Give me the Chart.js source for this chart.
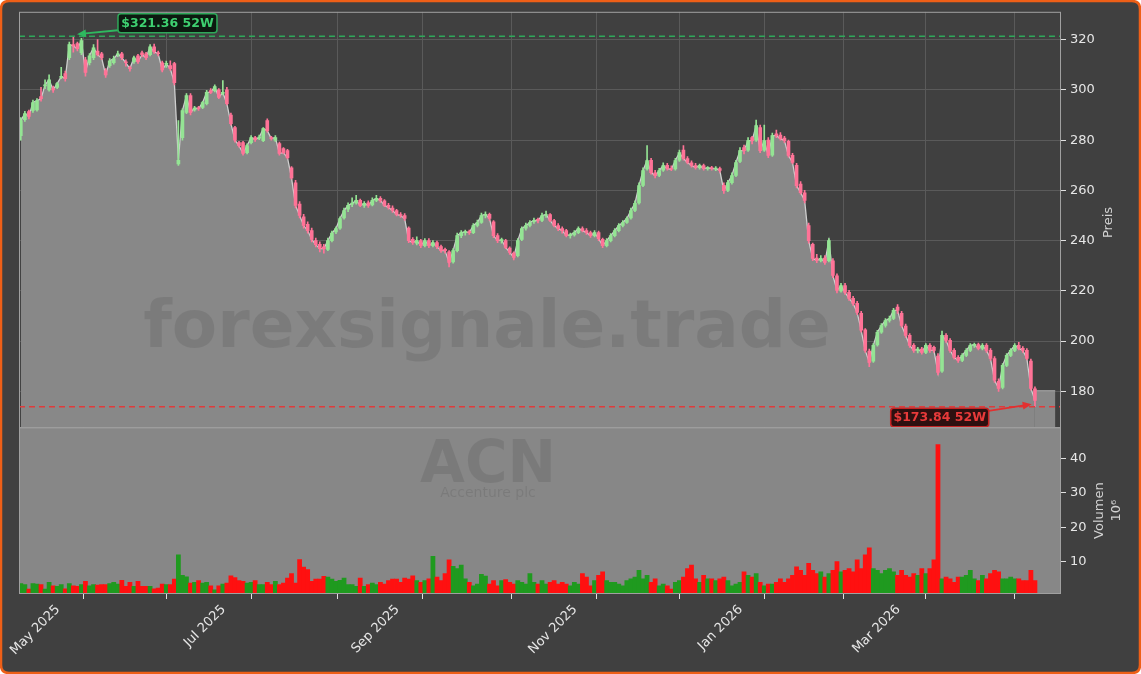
<!DOCTYPE html>
<html>
<head>
<meta charset="utf-8">
<script src="https://cdn.jsdelivr.net/npm/chart.js@4.4.1/dist/chart.umd.min.js"></script>
<style>
html, body { margin: 0; padding: 0; background: #ffffff; }
canvas { display: block; }
</style>
</head>
<body>
<canvas id="chart" width="1141" height="674"></canvas>
<script>
// one entry per trading day, 24 Apr 2025 .. 24 Apr 2026
const opens = [
  281.8, 288.2, 291.4, 291.8, 292, 297.3, 301.6, 300, 300.5, 301,
  305, 306.5, 312.8, 318, 318.4, 314.8, 312, 310.8, 312.8, 315.5,
  314.4, 307.7, 309.7, 310.8, 314, 314.4, 311, 308.8, 311.2, 313.6,
  314.8, 314.4, 314, 317.2, 314.6, 310.8, 310.2, 309.7, 310.5, 270.5,
  281, 291, 297.7, 292, 292.8, 293, 294.5, 299.7, 299.7, 300,
  298.6, 300, 290, 285, 279, 279, 275, 279, 281, 280.8,
  279.8, 287.8, 280.8, 280, 278.6, 276.6, 275.8, 269, 263, 254.5,
  249.5, 246.5, 244, 240, 238.5, 237.5, 236.5, 240, 243.5, 245,
  249, 252.5, 254.5, 255, 256, 254, 255, 254.2, 256, 256.8,
  255.8, 254, 253, 252, 250.4, 250, 245, 240.5, 239, 240,
  238, 240, 238, 239.2, 237.6, 236.5, 235.5, 231.5, 236, 242,
  243.2, 243.5, 243.2, 246, 247.2, 250, 250.5, 247.5, 242, 240,
  240, 237, 235, 234, 240.5, 245, 246, 247.5, 248.5, 248,
  250, 250.4, 248, 246, 244.8, 244, 242, 242.3, 243.2, 244.8,
  244, 243.2, 242, 243.2, 240.5, 238, 240, 242, 244, 246,
  247.2, 249, 252, 255, 262, 268.5, 272, 267, 266, 268,
  270, 268.7, 268.5, 272, 276, 272.7, 271, 269.9, 269, 269.9,
  268.7, 269, 268.5, 268.7, 262, 260, 263.1, 266, 271.5, 277,
  276, 281, 280, 285, 276, 280, 274, 282.5, 282, 280.8,
  279.5, 274, 270, 262.5, 259, 246, 238.5, 233, 232.1, 233,
  232, 232, 226, 220, 222.1, 219.4, 217, 215, 211, 204.5,
  196, 192, 198.5, 203.5, 206.2, 208.2, 209, 213.5, 211, 206,
  202.3, 198.3, 196.3, 196.8, 195.5, 198.3, 197.5, 194, 188, 202.3,
  200.3, 196.3, 193.5, 192.3, 194.3, 196.3, 198.3, 198.6, 197.1, 198.3,
  196.3, 193, 184, 181.5, 190.3, 194.3, 196.3, 198.3, 197.1, 196.3,
  192, 181
];

const highs = [
  289, 291.5, 292, 296, 296.5, 301, 304, 306, 301.5, 303,
  309, 307.5, 319, 321.36, 319, 320.5, 313, 314.5, 318, 320,
  315, 308.5, 312.5, 313.5, 315.5, 315, 312, 309.5, 313.5, 314.2,
  315.5, 315, 318, 318.2, 315.5, 311.5, 311.5, 311.6, 311, 287.8,
  292.5, 298.5, 298.5, 293.5, 293.5, 295.5, 299.8, 300.5, 302, 300.5,
  303.7, 301, 290.8, 285.5, 279.5, 279.5, 278.5, 281.8, 281.5, 282,
  285, 288.5, 281.5, 281.8, 279.2, 277, 276.3, 269.5, 264, 255.5,
  250.5, 247.5, 245, 241, 239.5, 238.5, 241, 243.8, 245.5, 249.5,
  253, 255, 257, 258, 256.5, 255.5, 255.8, 257, 258, 257.5,
  256.3, 254.8, 253.8, 252.5, 251.2, 250.8, 245.5, 241.2, 241.5, 240.5,
  240.8, 240.8, 240, 239.8, 238.2, 237, 236, 236.8, 243, 244,
  244.2, 244.2, 246.8, 248.2, 251, 251.5, 251, 248, 242.8, 241,
  240.5, 237.5, 235.5, 240.8, 245.5, 247, 248, 249, 249, 251,
  251.8, 250.8, 248.5, 246.8, 245.5, 244.5, 243, 244, 245.5, 245.5,
  244.8, 243.8, 244, 243.8, 241, 240.8, 242.8, 244.8, 246.8, 248,
  249.5, 253, 255.8, 263, 269, 277.8, 272.8, 268, 268.8, 271,
  270.8, 269.8, 272.8, 276, 277.8, 273.5, 271.8, 270.8, 270.5, 270.5,
  269.5, 269.6, 269.5, 269.3, 263, 264, 267, 272, 277, 278,
  281, 281.5, 288, 286, 286, 281, 282.8, 284, 283, 281.5,
  280, 274.8, 270.8, 263.5, 260, 247, 239, 234.5, 234, 234,
  240.8, 232.8, 226.8, 223, 223, 220.2, 217.8, 215.8, 211.8, 205,
  196.8, 199, 204.3, 207, 209, 210, 213, 214.5, 211.8, 206.8,
  203, 199, 197.5, 197.5, 199, 199, 198, 195, 204, 203,
  201, 197, 194.2, 195, 197, 199, 199.2, 199.2, 199, 199,
  197, 193.8, 185, 191, 195, 197, 199, 199.5, 197.8, 197,
  192.8, 181.8
];

const lows = [
  280, 287.5, 288.5, 291, 291.5, 295.5, 300.5, 299.5, 299, 300.5,
  304.5, 303.5, 312, 315, 315.5, 314, 305.5, 310, 312, 313.5,
  312, 305, 309, 310.2, 313.2, 312, 309.5, 307.5, 310.5, 310.5,
  313.2, 312, 313.5, 314.5, 313.5, 307.2, 309, 307.8, 302, 269.9,
  280, 290.5, 290, 291.5, 291.8, 292.5, 294, 298.5, 299.2, 296.5,
  298, 294, 286, 279.2, 277.2, 274, 274.5, 278.5, 279.5, 280.2,
  279.4, 283.2, 280, 279.5, 274, 274.5, 272.5, 264.5, 253, 249,
  245, 243, 239.5, 237.5, 235.5, 235, 236, 239.5, 242.8, 244.5,
  248.5, 251.5, 253.5, 254.5, 253.5, 253.2, 253.2, 253.8, 255.5, 255.2,
  253.5, 252.5, 251.2, 249.8, 249.2, 248, 239.2, 238.5, 238.3, 237.2,
  237.5, 237.2, 237.5, 236.8, 235.3, 235, 229.5, 231, 235.5, 241.2,
  242.2, 242.5, 242.8, 245.5, 246.8, 249, 248, 241.2, 239.2, 239,
  236.8, 234.5, 232.3, 233.5, 240, 244.2, 245.5, 246.8, 247, 247.5,
  249.2, 247.5, 245.5, 244, 243, 241.5, 241, 241.8, 242.8, 243.5,
  242.5, 241.3, 241.5, 240, 237.2, 237.5, 239.5, 241.5, 243.5, 245.5,
  246.8, 248.5, 251.5, 254.5, 261.5, 268, 266.5, 265, 265.5, 267.5,
  268, 267.8, 268, 271.5, 272, 270.5, 269.2, 268.4, 268.4, 268,
  268, 268, 267.8, 267.2, 258.8, 259.5, 262.5, 265.5, 271, 274.5,
  275.5, 278.5, 279.5, 275, 275.5, 273, 273.5, 281, 280, 279,
  273.2, 270.5, 261, 258.5, 255, 239, 232, 231.2, 231.5, 230.5,
  231.5, 225.2, 219.2, 219.5, 218.6, 216.2, 214.2, 210.5, 203.5, 195.5,
  189.8, 191.5, 198, 203, 205.5, 207.5, 208.5, 211, 205.5, 201.5,
  197.5, 195.5, 195.3, 194.8, 195, 195.5, 195.5, 186.5, 187.5, 199.5,
  195.5, 192.8, 191.5, 191.8, 193.8, 195.8, 197.5, 196.5, 196.5, 195.5,
  192.3, 183.5, 180, 181, 189.8, 193.8, 195.8, 196.5, 195.5, 192.5,
  180.5, 173.84
];

const closes = [
  287.8, 290.6, 289.4, 295, 295.7, 296.5, 302, 304, 300, 302.5,
  305.3, 304.5, 318, 317.5, 316.4, 319.6, 307, 313.6, 316.8, 314,
  312.8, 306, 311.6, 312.4, 314.4, 312.8, 310.8, 308.5, 312.8, 311.2,
  314, 312.8, 317.2, 315.2, 314.4, 308, 310.4, 308.5, 302.9, 272,
  291.8, 297.7, 291, 292.8, 292.5, 295, 299, 299, 301.3, 297,
  299, 294.5, 286.6, 280, 277.8, 274.7, 277.8, 281, 280.2, 281,
  284.6, 283.8, 280.6, 281, 274.7, 275, 273, 265, 254, 250,
  246, 244, 240.5, 238.4, 236.8, 236.8, 240, 243, 244.8, 248.8,
  252, 254, 254.8, 256, 254, 254.8, 254, 256, 256.8, 256,
  254, 253.2, 252, 250.4, 250, 248.8, 240, 239.2, 240, 238,
  240, 238, 239.2, 237.6, 236, 236, 231.3, 236, 242, 243.2,
  243.5, 243.2, 246, 247.2, 250, 250.5, 248.8, 242, 240, 240.3,
  237.3, 235.3, 233.3, 240, 244.8, 246, 247.2, 248, 248, 250,
  250.4, 248, 246, 244.8, 244, 242, 242.3, 243.2, 244.8, 244,
  243.2, 242, 243.2, 240.8, 238, 240, 242, 244, 246, 247.2,
  248.8, 252, 254.8, 261.9, 267.9, 271.9, 267.1, 265.9, 267.9, 269.9,
  268.7, 268.4, 271.9, 275, 272.7, 271.1, 269.9, 269.1, 269.9, 268.7,
  269, 268.7, 268.7, 267.9, 259.9, 263.1, 265.9, 271.1, 275.8, 275.8,
  279.8, 279.8, 285.8, 275.8, 279.8, 273.9, 281.8, 281.8, 280.6, 279.8,
  273.9, 271.1, 261.9, 259.1, 256, 240, 232.9, 232.1, 232.9, 231.3,
  240, 226.1, 220.2, 222.1, 219.4, 217, 215, 211.4, 204.3, 196.3,
  191.5, 198.3, 203.5, 206.2, 208.2, 209, 212.2, 212.2, 206.2, 202.3,
  198.3, 196.3, 196.8, 195.5, 198.3, 196.3, 196.3, 187.5, 202.3, 200.3,
  196.3, 193.5, 192.3, 194.3, 196.3, 198.3, 198.6, 197.1, 198.3, 196.3,
  193.1, 184.4, 181.2, 190.3, 194.3, 196.3, 198.3, 197.1, 196.3, 193.1,
  181.2, 176.4
];

// volume in millions
const volumes = [
  3.6, 3.3, 2.0, 3.6, 3.5, 3.3, 2.0, 4.0, 3.0, 2.8,
  3.3, 2.1, 3.6, 3.0, 2.8, 3.3, 4.3, 3.0, 3.3, 3.2,
  3.3, 3.3, 3.6, 4.0, 3.5, 4.6, 2.8, 4.0, 2.8, 4.3,
  2.8, 2.8, 2.8, 2.1, 2.3, 3.5, 3.3, 3.3, 4.9, 12.0,
  6.0, 5.6, 3.8, 4.0, 4.5, 3.8, 4.0, 3.0, 1.8, 3.0,
  3.5, 3.8, 5.9, 5.4, 4.5, 4.3, 3.8, 4.0, 4.5, 3.3,
  3.3, 4.0, 3.3, 4.3, 3.3, 3.8, 5.2, 6.5, 3.8, 10.6,
  8.4, 7.7, 4.3, 4.9, 4.9, 5.7, 5.5, 4.9, 4.3, 4.6,
  5.2, 3.3, 3.3, 2.8, 5.2, 2.8, 3.3, 3.8, 3.3, 4.0,
  3.5, 4.5, 4.9, 4.9, 4.0, 5.2, 4.9, 5.9, 4.5, 4.0,
  4.5, 5.0, 11.5, 5.5, 4.5, 6.5, 10.5, 8.6, 8.0, 9.0,
  5.0, 4.0, 3.0, 3.5, 6.3, 5.8, 3.5, 4.5, 3.0, 4.5,
  4.8, 4.0, 3.5, 4.5, 4.0, 3.5, 6.5, 4.0, 3.5, 4.5,
  3.5, 4.0, 4.5, 3.5, 4.0, 3.5, 3.0, 4.0, 3.5, 6.5,
  5.5, 3.0, 4.5, 6.0, 7.0, 4.5, 4.0, 4.0, 3.5, 3.0,
  4.5, 5.0, 5.5, 7.5, 5.0, 6.0, 4.0, 5.0, 3.0, 3.5,
  3.0, 2.0, 4.0, 4.5, 5.5, 8.0, 9.0, 5.0, 4.0, 6.0,
  5.0, 5.0, 4.5, 5.0, 5.5, 4.5, 3.0, 3.5, 4.0, 7.0,
  6.0, 5.5, 6.5, 4.0, 3.0, 3.5, 3.5, 4.0, 5.0, 4.0,
  5.0, 6.0, 8.5, 7.5, 6.0, 9.5, 7.5, 6.5, 7.0, 5.5,
  6.5, 7.5, 10.0, 7.0, 7.5, 8.0, 7.0, 10.5, 8.0, 12.0,
  14.0, 8.0, 7.5, 6.5, 7.5, 8.0, 7.0, 6.0, 7.5, 6.0,
  5.5, 6.5, 6.0, 8.0, 6.5, 8.0, 10.5, 44.0, 5.0, 5.5,
  5.0, 4.0, 5.5, 5.5, 6.0, 7.5, 5.0, 4.5, 6.0, 5.0,
  6.5, 7.5, 7.0, 5.0, 5.0, 5.5, 5.0, 5.0, 4.5, 4.5,
  7.5, 4.5
];

// first trading day of each month (index into the series)
const monthTicks = [5, 26, 46, 68, 89, 110, 133, 152, 174, 194, 213, 235];
const monthLabels = ['May 2025', '', 'Jul 2025', '', 'Sep 2025', '', 'Nov 2025', '', 'Jan 2026', '', 'Mar 2026', ''];
const priceTicks = [180, 200, 220, 240, 260, 280, 300, 320];
const volumeTicks = [10, 20, 30, 40];

const high52 = 321.36;
const low52 = 173.84;
const high52Index = 13.9;
const low52Index = 250.2;

const FONT = "'DejaVu Sans', sans-serif";
const upColor = '#94e494';
const downColor = '#ff7397';

const candleUp = closes.map((c, i) => c >= opens[i]);
const candleColors = candleUp.map(u => u ? upColor : downColor);
const volColors = candleUp.map(u => u ? '#1f9a1f' : '#ff1010');

const areaData = closes.map((c, i) => ({ x: i, y: c }));
const wickData = closes.map((c, i) => ({ x: i, y: [lows[i], highs[i]] }));
const bodyData = closes.map((c, i) => ({ x: i, y: [opens[i], c] }));
const volData = volumes.map((v, i) => ({ x: i, y: v }));

function roundRect(ctx, x, y, w, h, r) {
  ctx.beginPath();
  ctx.moveTo(x + r, y);
  ctx.lineTo(x + w - r, y);
  ctx.quadraticCurveTo(x + w, y, x + w, y + r);
  ctx.lineTo(x + w, y + h - r);
  ctx.quadraticCurveTo(x + w, y + h, x + w - r, y + h);
  ctx.lineTo(x + r, y + h);
  ctx.quadraticCurveTo(x, y + h, x, y + h - r);
  ctx.lineTo(x, y + r);
  ctx.quadraticCurveTo(x, y, x + r, y);
  ctx.closePath();
}

function arrow(ctx, x1, y1, x2, y2, color) {
  const a = Math.atan2(y2 - y1, x2 - x1);
  ctx.strokeStyle = color;
  ctx.fillStyle = color;
  ctx.lineWidth = 1.8;
  ctx.beginPath();
  ctx.moveTo(x1, y1);
  ctx.lineTo(x2 - 6 * Math.cos(a), y2 - 6 * Math.sin(a));
  ctx.stroke();
  ctx.beginPath();
  ctx.moveTo(x2, y2);
  ctx.lineTo(x2 - 9 * Math.cos(a) + 4 * Math.sin(a), y2 - 9 * Math.sin(a) - 4 * Math.cos(a));
  ctx.lineTo(x2 - 9 * Math.cos(a) - 4 * Math.sin(a), y2 - 9 * Math.sin(a) + 4 * Math.cos(a));
  ctx.closePath();
  ctx.fill();
}

function tagBox(ctx, text, left, top, w, h, bg, border, color) {
  roundRect(ctx, left, top, w, h, 3);
  ctx.fillStyle = bg;
  ctx.fill();
  ctx.lineWidth = 1.5;
  ctx.strokeStyle = border;
  ctx.stroke();
  ctx.fillStyle = color;
  ctx.font = 'bold 12.5px ' + FONT;
  ctx.textAlign = 'center';
  ctx.textBaseline = 'middle';
  ctx.fillText(text, left + w / 2, top + h / 2 + 0.5);
}

const decor = {
  id: 'decor',
  beforeDraw(chart) {
    const ctx = chart.ctx;
    ctx.save();
    ctx.clearRect(0, 0, chart.width, chart.height);
    roundRect(ctx, 1, 1, chart.width - 2, chart.height - 2, 8);
    ctx.fillStyle = '#404040';
    ctx.fill();
    ctx.lineWidth = 2.5;
    ctx.strokeStyle = '#ee5f17';
    ctx.stroke();
    ctx.restore();
  },
  beforeDatasetsDraw(chart) {
    const ctx = chart.ctx;
    const a = chart.chartArea;
    const v = chart.scales.y2;
    ctx.save();
    ctx.fillStyle = '#878787';
    ctx.fillRect(a.left, v.top, a.right - a.left, v.bottom - v.top);
    ctx.restore();
  },
  afterDatasetDraw(chart, args) {
    if (args.index !== 1) return;
    const ctx = chart.ctx;
    const xs = chart.scales.x;
    const ys = chart.scales.y;
    ctx.save();
    // the shaded price area runs a little past the last session
    const last = closes.length - 1;
    const tx0 = xs.getPixelForValue(last);
    const tx1 = xs.getPixelForValue(last + 5);
    const ty = ys.getPixelForValue(180.4);
    ctx.fillStyle = '#888888';
    ctx.fillRect(tx0, ty, tx1 - tx0, ys.bottom - ty);
    ctx.strokeStyle = '#a6a6a6';
    ctx.lineWidth = 1;
    ctx.beginPath();
    ctx.moveTo(tx0, ty + 0.5); ctx.lineTo(tx1, ty + 0.5);
    ctx.stroke();
    // watermarks sit on top of the area fill, under the candles
    ctx.textAlign = 'center';
    ctx.textBaseline = 'alphabetic';
    ctx.fillStyle = 'rgba(0,0,0,0.09)';
    ctx.font = 'bold 66px ' + FONT;
    ctx.fillText('forexsignale.trade', 487, 347);
    ctx.font = 'bold 58px ' + FONT;
    ctx.fillText('ACN', 488, 482);
    ctx.font = '14px ' + FONT;
    ctx.fillText('Accenture plc', 488, 497);
    ctx.restore();
  },
  afterDraw(chart) {
    const ctx = chart.ctx;
    const a = chart.chartArea;
    const xs = chart.scales.x;
    const ys = chart.scales.y;
    const vs = chart.scales.y2;
    ctx.save();
    ctx.beginPath();
    ctx.rect(a.left, a.top, a.right - a.left, ys.bottom - a.top);
    ctx.clip();
    ctx.lineWidth = 1.4;
    ctx.setLineDash([6, 4]);
    ctx.strokeStyle = '#2fa85a';
    let yh = ys.getPixelForValue(high52);
    ctx.beginPath(); ctx.moveTo(a.left, yh); ctx.lineTo(a.right, yh); ctx.stroke();
    ctx.strokeStyle = '#e03b3b';
    let yl = ys.getPixelForValue(low52);
    ctx.beginPath(); ctx.moveTo(a.left, yl); ctx.lineTo(a.right, yl); ctx.stroke();
    ctx.setLineDash([]);
    ctx.restore();

    ctx.save();
    // 52W high tag
    const hx = xs.getPixelForValue(high52Index);
    arrow(ctx, hx + 41, yh - 6, hx, yh - 2, '#2fb85f');
    tagBox(ctx, '$321.36 52W', hx + 41, yh - 22.5, 99, 19, '#0c1a10', '#2fa85a', '#3ed070');
    // 52W low tag
    const lx = xs.getPixelForValue(low52Index);
    arrow(ctx, lx - 43, yl + 4, lx, yl - 2.5, '#e23030');
    tagBox(ctx, '$173.84 52W', lx - 141, yl + 1.5, 98, 18.5, '#2e1010', '#c42424', '#e83a3a');

    // panel frames
    ctx.strokeStyle = '#a0a0a0';
    ctx.lineWidth = 1;
    ctx.strokeRect(a.left + 0.5, ys.top + 0.5, a.right - a.left - 1, ys.bottom - ys.top);
    ctx.strokeRect(a.left + 0.5, vs.top + 0.5, a.right - a.left - 1, vs.bottom - vs.top - 1);

    // axis titles, reading upwards
    ctx.fillStyle = '#d2d2d2';
    ctx.font = '13px ' + FONT;
    ctx.textAlign = 'center';
    ctx.textBaseline = 'middle';
    ctx.translate(1109, (ys.top + ys.bottom) / 2 + 3);
    ctx.rotate(-Math.PI / 2);
    ctx.fillText('Preis', 0, 0);
    ctx.setTransform(1, 0, 0, 1, 0, 0);
    ctx.translate(1100, (vs.top + vs.bottom) / 2);
    ctx.rotate(-Math.PI / 2);
    ctx.fillText('Volumen', 0, 0);
    ctx.fillText('10\u2076', 0, 17);
    ctx.restore();
  }
};

const tickFont = { family: FONT, size: 13 };

new Chart(document.getElementById('chart'), {
  type: 'bar',
  data: {
    datasets: [
      {
        type: 'bar', label: 'Volumen', data: volData, yAxisID: 'y2',
        backgroundColor: volColors, barThickness: 4.1, grouped: false, order: 4
      },
      {
        type: 'line', label: 'Close', data: areaData, yAxisID: 'y',
        borderColor: '#cfcfcf', borderWidth: 1.3, backgroundColor: '#888888',
        fill: 'start', pointRadius: 0, tension: 0, order: 3
      },
      {
        type: 'bar', label: 'Wick', data: wickData, yAxisID: 'y',
        backgroundColor: candleColors, barThickness: 1, grouped: false, order: 2
      },
      {
        type: 'bar', label: 'Body', data: bodyData, yAxisID: 'y',
        backgroundColor: candleColors, barThickness: 3, minBarLength: 1, grouped: false, order: 1
      }
    ]
  },
  options: {
    responsive: false,
    devicePixelRatio: 1,
    animation: false,
    layout: { padding: { left: 19, top: 11, right: 0, bottom: 0 } },
    plugins: { legend: { display: false }, tooltip: { enabled: false } },
    scales: {
      x: {
        type: 'linear', min: -0.45, max: 257.45, offset: false,
        afterBuildTicks: s => { s.ticks = monthTicks.map(v => ({ value: v })); },
        afterFit: s => { s.height = 80; s.paddingLeft = 0; s.paddingRight = 0; },
        ticks: {
          autoSkip: false, minRotation: 45, maxRotation: 45, color: '#e6e6e6', font: tickFont,
          labelOffset: 17,
          callback: v => monthLabels[monthTicks.indexOf(v)]
        },
        grid: { color: '#5a5a5a', tickColor: '#e0e0e0', tickLength: 5 },
        border: { display: false }
      },
      y: {
        type: 'linear', position: 'right', stack: 'pane', stackWeight: 416,
        min: 165.7, max: 331.1,
        afterBuildTicks: s => { s.ticks = priceTicks.map(v => ({ value: v })); },
        afterFit: s => { s.width = 80; },
        ticks: { color: '#e6e6e6', font: tickFont, padding: 4 },
        grid: { color: '#5a5a5a', tickColor: '#e0e0e0', tickLength: 5 },
        border: { display: false }
      },
      y2: {
        type: 'linear', position: 'right', stack: 'pane', stackWeight: 167,
        min: 0.6, max: 49,
        afterBuildTicks: s => { s.ticks = volumeTicks.map(v => ({ value: v })); },
        afterFit: s => { s.width = 80; },
        ticks: { color: '#e6e6e6', font: tickFont, padding: 4 },
        grid: { drawOnChartArea: false, tickColor: '#e0e0e0', tickLength: 5 },
        border: { display: false }
      }
    }
  },
  plugins: [decor]
});
</script>
</body>
</html>
